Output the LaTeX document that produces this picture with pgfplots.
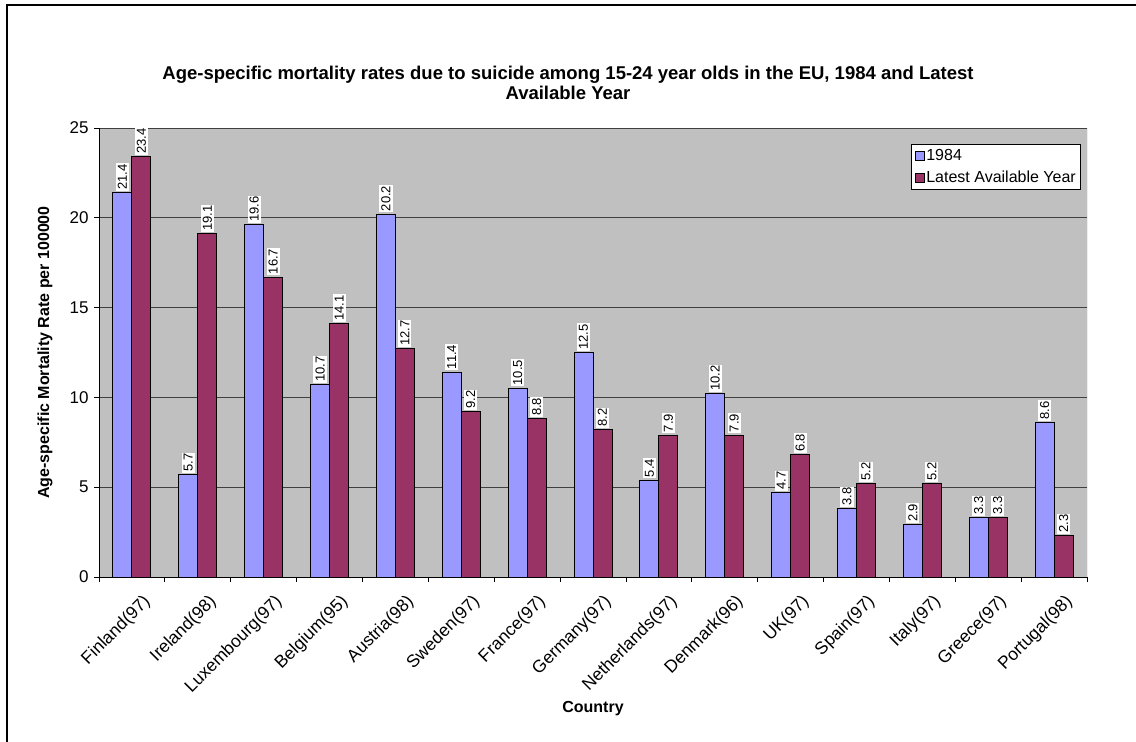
\documentclass[border=0pt]{standalone}
\usepackage{pgfplots}
\pgfplotsset{compat=1.18}
\usepackage{fontspec}
\setmainfont{Liberation Sans}
\definecolor{barblue}{HTML}{9999FF}
\definecolor{barplum}{HTML}{993366}
\definecolor{plotgray}{HTML}{C0C0C0}

\begin{document}
\begin{tikzpicture}
\useasboundingbox (0pt,0pt) rectangle (1136pt,-742pt);
% chart frame
\draw[line width=2pt] (7pt,-742pt) -- (7pt,-5pt) -- (1136pt,-5pt);
\begin{axis}[
  at={(99pt,-577pt)}, anchor=south west,
  scale only axis, width=988pt, height=449pt,
  /pgf/number format/assume math mode=true,
  xmin=-0.5, xmax=14.5, ymin=0, ymax=25,
  ybar=0pt, bar width=19pt,
  axis background/.style={fill=plotgray},
  axis x line*=bottom, axis y line*=left,
  axis line style={line width=1pt, black},
  tick align=outside,
  ytick={0,5,...,25},
  ymajorgrids, grid style={black!75, line width=0.8pt},
  major tick length=5pt, minor tick length=5pt,
  tick style={black, line width=0.8pt},
  xtick={0,...,14},
  major x tick style={draw=none},
  minor xtick={-0.5,0.5,...,14.5},
  xticklabels={Finland(97),Ireland(98),Luxembourg(97),Belgium(95),Austria(98),Sweden(97),France(97),Germany(97),Netherlands(97),Denmark(96),UK(97),Spain(97),Italy(97),Greece(97),Portugal(98)},
  xticklabel style={rotate=45, anchor=north east, inner sep=1pt, yshift=-14pt, font=\fontsize{17.5}{17.5}\selectfont},
  yticklabel style={font=\fontsize{17}{17}\selectfont, xshift=-2pt},
  title={Age-specific mortality rates due to suicide among 15-24 year olds in the EU, 1984 and Latest\\Available Year},
  title style={at={(axis description cs:0.4747,1.0869)}, anchor=center, align=center, font=\fontsize{18.5}{20}\selectfont\bfseries},
  ylabel={Age-specific Mortality Rate per 100000},
  ylabel style={at={(axis description cs:-0.0547,0.5)}, anchor=center, rotate=0, font=\fontsize{16}{16}\selectfont\bfseries},
  xlabel={Country},
  xlabel style={at={(axis description cs:0.5,-0.294)}, anchor=center, font=\fontsize{16}{16}\selectfont\bfseries},
  nodes near coords={\pgfmathprintnumber[fixed,fixed zerofill,precision=1]{\pgfplotspointmeta}},
  every node near coord/.append style={rotate=90, anchor=west, fill=white, inner xsep=1pt, inner ysep=2pt, outer sep=2pt, text=black, font=\fontsize{13}{13}\selectfont},
  legend style={at={(0.994,0.964)}, anchor=north east, draw=black, fill=white, line width=0.6pt, font=\fontsize{16}{17}\selectfont, row sep=5pt, inner sep=3pt},
  legend cell align=left,
  legend image code/.code={\draw[#1, line width=0.8pt] (0pt,-4.5pt) rectangle (9pt,4.5pt);},
]
\addplot[fill=barblue, draw=black, line width=1pt] coordinates {
  (0,21.4) (1,5.7) (2,19.6) (3,10.7) (4,20.2) (5,11.4) (6,10.5) (7,12.5)
  (8,5.4) (9,10.2) (10,4.7) (11,3.8) (12,2.9) (13,3.3) (14,8.6)};
\addplot[fill=barplum, draw=black, line width=1pt] coordinates {
  (0,23.4) (1,19.1) (2,16.7) (3,14.1) (4,12.7) (5,9.2) (6,8.8) (7,8.2)
  (8,7.9) (9,7.9) (10,6.8) (11,5.2) (12,5.2) (13,3.3) (14,2.3)};
\legend{1984, Latest Available Year}
\draw[black!55, line width=0.8pt] (rel axis cs:1,0) -- (rel axis cs:1,1);
\end{axis}
\end{tikzpicture}
\end{document}
